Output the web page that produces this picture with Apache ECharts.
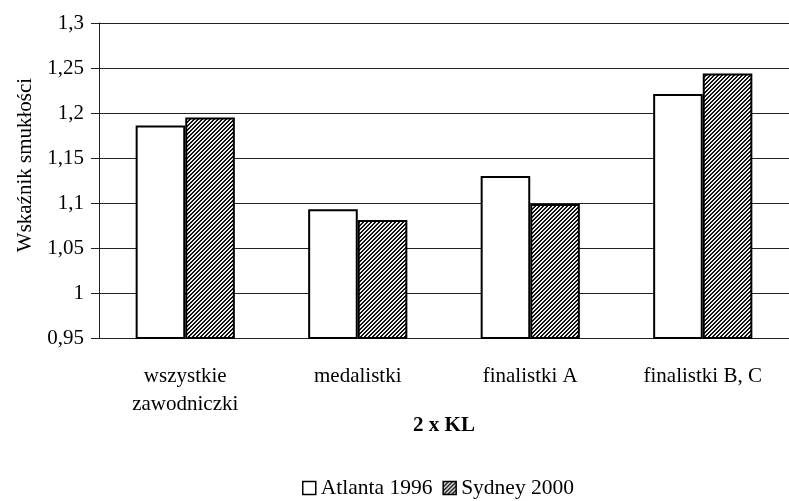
<!DOCTYPE html>
<html>
<head>
<meta charset="utf-8">
<script src="https://cdn.jsdelivr.net/npm/echarts@6/dist/echarts.min.js"></script>
<style>
  html, body { margin: 0; padding: 0; background: #fff; }
  #chart { width: 789px; height: 501px; }
</style>
</head>
<body>
<div id="chart"></div>
<script>
// dane
const categories = ['wszystkie\nzawodniczki', 'medalistki', 'finalistki A', 'finalistki B, C']
const atlanta1996 = [1.186, 1.093, 1.130, 1.221]
const sydney2000 = [1.195, 1.081, 1.099, 1.244]
const seriesNames = ['Atlanta 1996', 'Sydney 2000']
const yTicks = { min: 0.95, max: 1.3, step: 0.05 }

const FONT = '"Liberation Serif", "Times New Roman", serif'

// wzór ukośnego kreskowania (////)
function hatch () {
    const c = document.createElement('canvas')
    c.width = 4
    c.height = 4
    const ctx = c.getContext('2d')
    for (let x = 0; x < 4; x++) {
        for (let y = 0; y < 4; y++) {
            ctx.fillStyle = ((x + y) % 4 < 2) ? '#111' : '#eee'
            ctx.fillRect(x, y, 1, 1)
        }
    }
    return c
}

const chart = echarts.init(document.getElementById('chart'))

const option = {
    animation: false,
    backgroundColor: '#fff',
    textStyle: { fontFamily: FONT, color: '#000' },
    grid: {
        left: 99,
        top: 23,
        width: 696,
        height: 315
    },
    legend: {
        left: 297,
        top: 472,
        itemWidth: 13,
        itemHeight: 13,
        itemGap: 10,
        icon: 'rect',
        textStyle: { fontFamily: FONT, fontSize: 21.5, color: '#000' },
        itemStyle: { borderColor: '#000', borderWidth: 1.5 },
        data: seriesNames
    },
    xAxis: {
        type: 'category',
        data: categories,
        name: '2 x KL',
        nameLocation: 'middle',
        nameGap: 77,
        nameMoveOverlap: false,
        nameTextStyle: { fontFamily: FONT, fontSize: 21, fontWeight: 'bold', color: '#000' },
        axisLine: { lineStyle: { color: '#222', width: 1 } },
        axisTick: { length: 8, lineStyle: { color: '#222' } },
        axisLabel: {
            margin: 24,
            fontFamily: FONT,
            fontSize: 21,
            lineHeight: 28,
            color: '#000'
        }
    },
    yAxis: {
        type: 'value',
        min: yTicks.min,
        max: yTicks.max,
        interval: yTicks.step,
        axisLine: { show: true, lineStyle: { color: '#222', width: 1 } },
        axisTick: { show: true, length: 8, lineStyle: { color: '#222' } },
        axisLabel: {
            margin: 15,
            fontFamily: FONT,
            fontSize: 21,
            color: '#000',
            formatter: v => String(+v.toFixed(2)).replace('.', ',')
        },
        splitLine: { show: true, lineStyle: { color: '#222', width: 1 } }
    },
    graphic: [{
        type: 'text',
        x: 25,
        y: 165,
        rotation: Math.PI / 2,
        style: {
            text: 'Wskaźnik smukłości',
            font: '21px ' + FONT,
            fill: '#000',
            align: 'center',
            verticalAlign: 'middle'
        }
    }],
    series: [
        {
            name: seriesNames[0],
            type: 'bar',
            data: atlanta1996,
            barGap: '0%',
            barCategoryGap: '42.5%',
            itemStyle: { color: '#fff', borderColor: '#000', borderWidth: 2 }
        },
        {
            name: seriesNames[1],
            type: 'bar',
            data: sydney2000,
            itemStyle: {
                color: { image: hatch(), repeat: 'repeat' },
                borderColor: '#000',
                borderWidth: 2
            }
        }
    ]
}

chart.setOption(option)
</script>
</body>
</html>
